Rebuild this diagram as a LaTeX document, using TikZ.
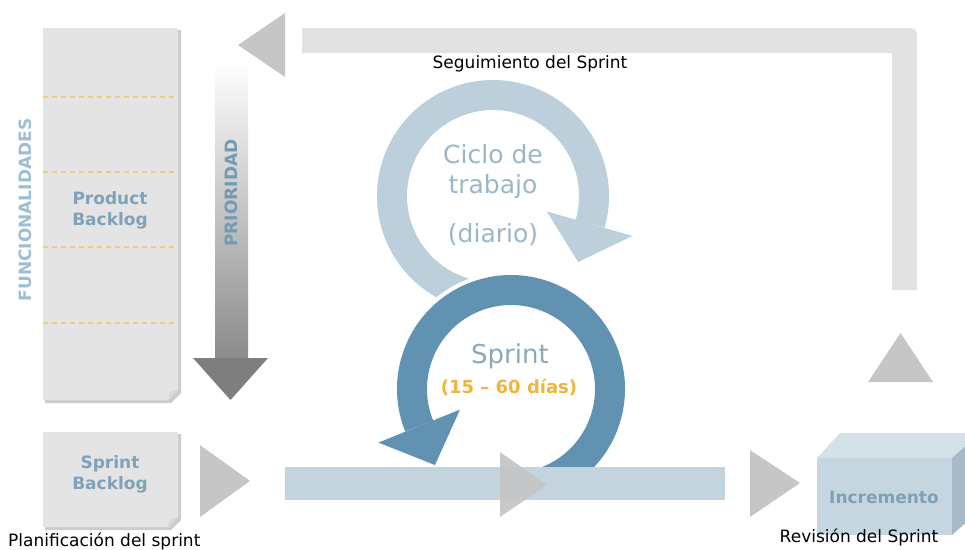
\documentclass[tikz,border=0pt]{standalone}
\usepackage{fontspec}
\setmainfont{DejaVu Sans}
\usetikzlibrary{calc}
\definecolor{boxgray}{HTML}{E4E4E4}
\definecolor{boxshadow}{HTML}{CCCCCC}
\definecolor{foldgray}{HTML}{D8D8D8}
\definecolor{arrowgray}{HTML}{C6C6C6}
\definecolor{fbkgray}{HTML}{E2E2E2}
\definecolor{dashorange}{HTML}{F2CA7E}
\definecolor{labelblue}{HTML}{7FA2B9}
\definecolor{funcblue}{HTML}{9DBFD5}
\definecolor{prioblue}{HTML}{7399B3}
\definecolor{lightring}{HTML}{BCCFDB}
\definecolor{darkring}{HTML}{6192B2}
\definecolor{cicloblue}{HTML}{9AB7C9}
\definecolor{sprintgray}{HTML}{8DA8B8}
\definecolor{orangetxt}{HTML}{F0B43C}
\definecolor{barblue}{HTML}{C3D4DF}
\definecolor{incfront}{HTML}{C6D6E0}
\definecolor{inctop}{HTML}{D4E1E9}
\definecolor{incside}{HTML}{A8BAC7}
\definecolor{inctext}{HTML}{7FA0B5}
\definecolor{priohead}{HTML}{7E7E7E}
\begin{document}
\begin{tikzpicture}[x=1pt,y=-1pt,
  lbl/.style={font=\fontsize{17}{21}\selectfont, text=black, inner sep=0pt},
  boxlbl/.style={font=\fontsize{17}{21}\selectfont\bfseries, text=labelblue, align=center, inner sep=0pt},
  bigtxt/.style={font=\fontsize{25}{30}\selectfont, text=cicloblue, inner sep=0pt},
  tri/.style={fill=arrowgray},
  paper/.style={fill=boxgray},
  papershadow/.style={fill=boxshadow},
  fold/.style={fill=foldgray},
  dashline/.style={draw=dashorange, line width=1.2pt, dash pattern=on 5pt off 4pt}]
\useasboundingbox (0,0) rectangle (965,549);
\clip (0,0) rectangle (965,549);

% Product backlog
\fill[papershadow] (45,30) -- (181,30) -- (181,393) -- (171,403) -- (45,403) -- cycle;
\fill[paper] (43,28) -- (178,28) -- (178,390) -- (168,400) -- (43,400) -- cycle;
\fill[fold] (178,390) -- (168,400) -- (170,392) -- cycle;
\foreach \yy in {97,172,247,323} \draw[dashline] (43,\yy) -- (178,\yy);
\node[boxlbl] (pb) at (110,210) {Product\\Backlog};
\node[boxlbl, text=funcblue, rotate=90] (func) at (25,210) {FUNCIONALIDADES};

% Priority arrow
\shade[top color=white, bottom color=priohead!90!white] (215,60) rectangle (248,358);
\fill[priohead] (193,358) -- (268,358) -- (230.5,400) -- cycle;
\node[boxlbl, text=prioblue, rotate=90] (prio) at (231,193) {PRIORIDAD};

% Feedback arrow
\fill[tri] (238,45) -- (285,13) -- (285,77) -- cycle;
\fill[fbkgray] (302,28) -- (902,28) .. controls (917,28) .. (917,43) -- (917,290) -- (892,290) -- (892,53) -- (302,53) -- cycle;
\fill[tri] (868,382) -- (933,382) -- (900.5,333) -- cycle;
\node[lbl, anchor=base] (seg) at (530,68) {Seguimiento del Sprint};

% Daily cycle ring
\coordinate (lc) at (493,196);
\draw[lightring, line width=30pt] ($(lc)+(-255:101)$) arc[start angle=-255, end angle=16, radius=101];
\fill[lightring] ($(lc)+(16:56)$) -- ($(lc)+(16:145)$) -- ($(lc)+(16:100)+(106:40)$) -- cycle;
\node[bigtxt, anchor=base] (ciclo1) at (493,163) {Ciclo de};
\node[bigtxt, anchor=base] (ciclo2) at (493,193) {trabajo};
\node[bigtxt, anchor=base] (ciclo3) at (493,242) {(diario)};

% Sprint ring
\coordinate (dc) at (511,389);
\draw[white, line width=38pt] ($(dc)+(68:99)$) arc[start angle=68, end angle=-202, radius=99];
\draw[darkring, line width=30pt] ($(dc)+(68:99)$) arc[start angle=68, end angle=-202, radius=99];
\fill[darkring] ($(dc)+(158:55)$) -- ($(dc)+(158:143)$) -- ($(dc)+(158:99)+(68:42)$) -- cycle;
\node[font=\fontsize{26}{30}\selectfont, text=sprintgray, inner sep=0pt, anchor=base] (sprint) at (510,363) {Sprint};
\node[font=\fontsize{18}{22}\selectfont\bfseries, text=orangetxt, inner sep=0pt, anchor=base] (dias) at (509,393) {(15 – 60 días)};

% Timeline bar and arrows
\fill[barblue] (285,467) rectangle (725,500);
\fill[tri] (200,445) -- (250,481) -- (200,517) -- cycle;
\fill[tri, opacity=0.95] (500,452) -- (547,485) -- (500,517) -- cycle;
\fill[tri] (750,450) -- (800,483) -- (750,517) -- cycle;

% Sprint backlog
\fill[papershadow] (45,434) -- (181,434) -- (181,520) -- (171,530) -- (45,530) -- cycle;
\fill[paper] (43,432) -- (178,432) -- (178,517) -- (168,527) -- (43,527) -- cycle;
\fill[fold] (178,517) -- (168,527) -- (170,519) -- cycle;
\node[boxlbl] (sb) at (110,474) {Sprint\\Backlog};
\node[lbl, anchor=base west] (plan) at (8,546) {Planificación del sprint};

% Increment box
\fill[inctop] (817,458) -- (840,433) -- (980,433) -- (952,458) -- cycle;
\fill[incside] (952,458) -- (980,433) -- (980,510) -- (952,535) -- cycle;
\fill[incfront] (817,458) rectangle (952,535);
\node[boxlbl, text=inctext] (inc) at (884,497) {Incremento};
\node[lbl, anchor=base] (rev) at (859,542) {Revisión del Sprint};
\end{tikzpicture}
\end{document}
